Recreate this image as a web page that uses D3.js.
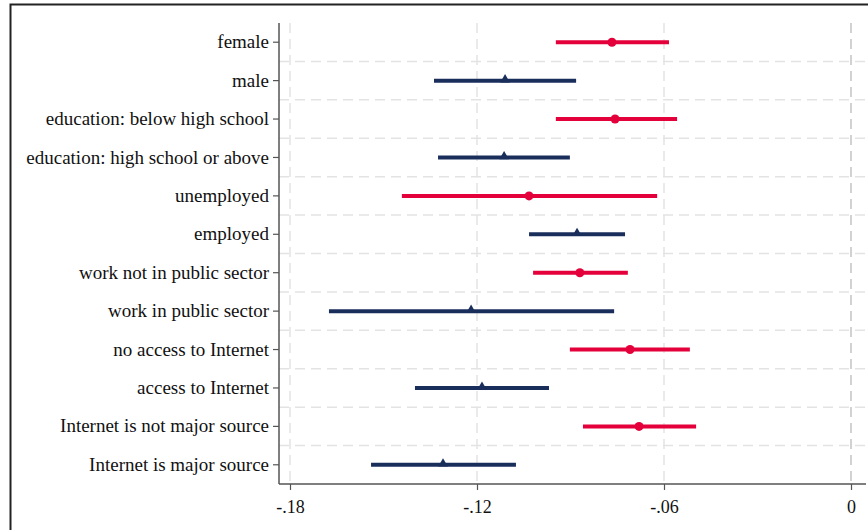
<!DOCTYPE html>
<html><head><meta charset="utf-8">
<script src="https://cdn.jsdelivr.net/npm/d3@7"></script>
<style>body{margin:0;background:#fff}svg{display:block}</style>
</head><body>
<script>
const categories = ["female","male","education: below high school","education: high school or above","unemployed","employed","work not in public sector","work in public sector","no access to Internet","access to Internet","Internet is not major source","Internet is major source"];
const groups = ["red","navy","red","navy","red","navy","red","navy","red","navy","red","navy"];
const estimates = [-0.0767,-0.1110,-0.0757,-0.1113,-0.1033,-0.0879,-0.0870,-0.1219,-0.0709,-0.1184,-0.0680,-0.1309];
const lower = [-0.0947,-0.1338,-0.0947,-0.1325,-0.1441,-0.1033,-0.1020,-0.1675,-0.0902,-0.1399,-0.0860,-0.1540];
const upper = [-0.0584,-0.0882,-0.0558,-0.0902,-0.0622,-0.0725,-0.0716,-0.0760,-0.0517,-0.0969,-0.0497,-0.1075];
const xTicks = [-0.18,-0.12,-0.06,0];
const xTickLabels = ["-.18","-.12","-.06","0"];

(function(){
const W=868,H=530;
const svg=d3.select("body").append("svg").attr("width",W).attr("height",H);
const colors={red:"#E4003A",navy:"#1A2E5C"};
const yTop=23,yBot=484,xLeft=279,xRight=866;
const x=d3.scaleLinear().domain([-0.18,0]).range([290,851]);
const y=d3.scaleBand().domain(categories).range([yTop,yBot]).padding(0);
const bw=y.bandwidth();
const yc=c=>y(c)+bw/2;
const font="Liberation Serif, Times New Roman, serif";

svg.append("path").attr("d",`M10.5,${H} V4.5 H${W}`).attr("fill","none").attr("stroke","#222").attr("stroke-width",2);

const grid=svg.append("g");
categories.slice(1).forEach(c=>{
  const yy=y(c);
  grid.append("line").attr("x1",xLeft).attr("x2",xRight).attr("y1",yy).attr("y2",yy)
   .attr("stroke","#e3e3e3").attr("stroke-width",1.5).attr("stroke-dasharray","10,6");
});
xTicks.forEach(t=>{
  grid.append("line").attr("x1",x(t)).attr("x2",x(t)).attr("y1",yTop).attr("y2",yBot)
   .attr("stroke",t===0?"#c4c4c4":"#e3e3e3").attr("stroke-width",1.5).attr("stroke-dasharray","10,6");
});

const yAxis=svg.append("g").attr("transform",`translate(${xLeft},0)`)
  .call(d3.axisLeft(y).tickSize(6).tickPadding(4));
yAxis.select(".domain").attr("d",`M0,${yTop}V${yBot}`).attr("stroke","#555").attr("stroke-width",1.5);
yAxis.selectAll(".tick line").attr("stroke","#555").attr("stroke-width",1.2);
yAxis.selectAll("text").attr("font-family",font).attr("font-size",19).attr("fill","#111");

const xAxis=svg.append("g").attr("transform",`translate(0,${yBot})`)
  .call(d3.axisBottom(x).tickValues(xTicks).tickFormat((d,i)=>xTickLabels[i]).tickSize(6).tickPadding(10));
xAxis.select(".domain").attr("d",`M${xLeft},0H${xRight}`).attr("stroke","#555").attr("stroke-width",1.5);
xAxis.selectAll(".tick line").attr("stroke","#555").attr("stroke-width",1.2);
xAxis.selectAll("text").attr("font-family",font).attr("font-size",18).attr("fill","#111");

const g=svg.append("g");
categories.forEach((c,i)=>{
  const col=colors[groups[i]];
  g.append("line").attr("x1",x(lower[i])).attr("x2",x(upper[i])).attr("y1",yc(c)).attr("y2",yc(c))
   .attr("stroke",col).attr("stroke-width",4);
  if(groups[i]==="red"){
    g.append("circle").attr("cx",x(estimates[i])).attr("cy",yc(c)).attr("r",4.5).attr("fill",col);
  } else {
    g.append("path").attr("transform",`translate(${x(estimates[i])},${yc(c)-1})`)
     .attr("d",d3.symbol(d3.symbolTriangle,40)()).attr("fill",col);
  }
});
})();
</script>
</body></html>
